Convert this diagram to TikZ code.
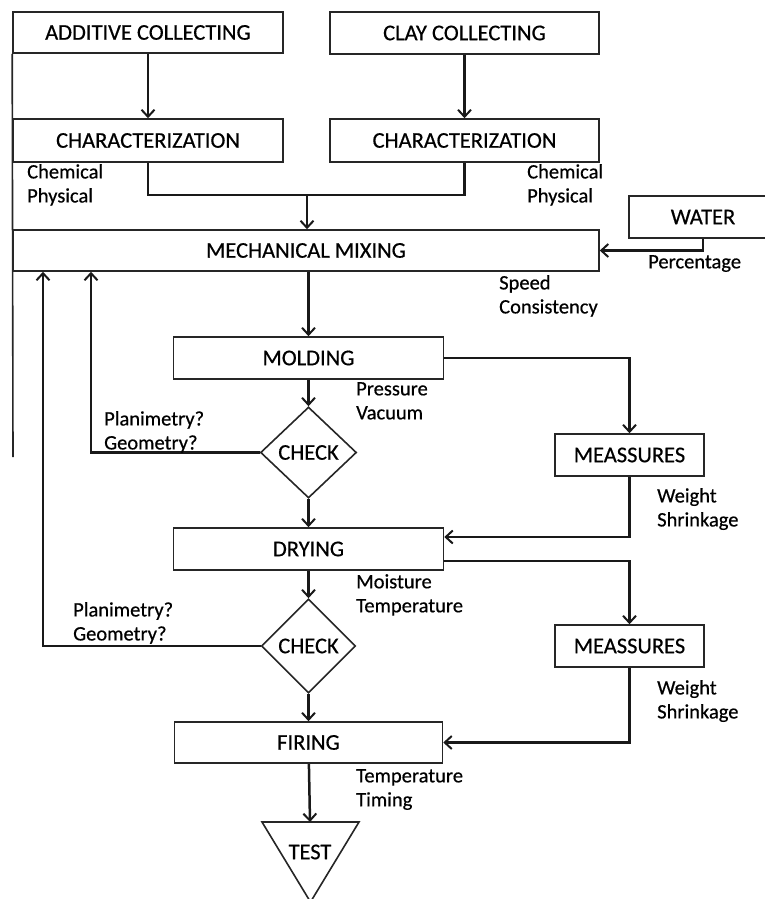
\documentclass[tikz,border=0pt]{standalone}
\usepackage{fontspec}
\setmainfont{Carlito}[FakeBold=0.5]
\usetikzlibrary{arrows.meta,shapes.geometric}
\begin{document}
\begin{tikzpicture}[x=1pt,y=-1pt,
  box/.style={draw=black!85, line width=1.6pt, inner sep=0pt, font=\fontsize{22.5}{26}\selectfont},
  chk/.style={diamond, draw=black!85, line width=1.6pt, inner sep=0pt, font=\fontsize{22.5}{26}\selectfont},
  shapeline/.style={draw=black!85, line width=1.6pt},
  note/.style={anchor=north west, inner sep=0pt, align=left, font=\fontsize{20.5}{24}\selectfont},
  conn/.style={line width=2.5pt, draw=black!90},
  arr/.style={conn, -{Straight Barb[length=7pt,width=13pt,line width=2pt]}}
]
\useasboundingbox (0,0) rectangle (764,899);

% boxes
\node[box, minimum width=270pt, minimum height=41pt] (add) at (148,32.5) {ADDITIVE COLLECTING};
\node[box, minimum width=269pt, minimum height=42pt] (clay) at (464.5,33) {CLAY COLLECTING};
\node[box, minimum width=270pt, minimum height=43pt] (char1) at (148,140.5) {CHARACTERIZATION};
\node[box, minimum width=269pt, minimum height=43pt] (char2) at (464.5,140.5) {CHARACTERIZATION};
\node[box, minimum width=586pt, minimum height=41pt] (mix) at (306,250.5) {MECHANICAL MIXING};
\node[box, minimum width=148pt, minimum height=42pt] (water) at (703,217) {WATER};
\node[box, minimum width=270pt, minimum height=42pt] (mold) at (308.5,358) {MOLDING};
\node[chk, minimum width=96pt, minimum height=91pt] (check1) at (308.5,452.5) {CHECK};
\node[box, minimum width=270pt, minimum height=42pt] (dry) at (308.5,549) {DRYING};
\node[chk, minimum width=94pt, minimum height=94pt] (check2) at (308.5,646) {CHECK};
\node[box, minimum width=268pt, minimum height=41pt] (fire) at (308.5,742.5) {FIRING};
\node[box, minimum width=149pt, minimum height=42pt] (meas1) at (629.5,455) {MEASSURES};
\node[box, minimum width=149pt, minimum height=42pt] (meas2) at (629.5,646) {MEASSURES};

% test triangle
\coordinate (testtop) at (310,822);
\draw[shapeline] (262,822) -- (359,822) -- (310.5,902) -- cycle;
\node[font=\fontsize{22.5}{26}\selectfont, inner sep=0pt] (test) at (310,852) {TEST};

% left edge line
\coordinate (leftend) at (13,457);
\draw[shapeline] (add.south west) -- (leftend);

% connectors
\draw[arr] (add) -- (char1);
\draw[arr] (clay) -- (char2);
\coordinate (j) at (307,195);
\draw[conn] (char1.south) |- (j) -| (char2.south);
\draw[arr] (j) -- (j |- mix.north);
\draw[arr] (water.south) |- (mix.east);
\draw[arr] (mold.north |- mix.south) -- (mold.north);
\draw[arr] (mold) -- (check1);
\draw[arr] (check1) -- (dry);
\draw[arr] (dry) -- (check2);
\draw[arr] (check2) -- (fire);
\draw[arr] (fire) -- (testtop);
\coordinate (fb1) at (91,0);
\coordinate (fb2) at (43,0);
\draw[arr] (check1.west) -| (fb1 |- mix.south);
\draw[arr] (check2.west) -| (fb2 |- mix.south);
\draw[arr] (mold.east) -| (meas1.north);
\draw[arr] (meas1.south) |- ([yshift=12pt]dry.east);
\draw[arr] ([yshift=-12pt]dry.east) -| (meas2.north);
\draw[arr] (meas2.south) |- (fire.east);

% notes
\node[note] (n1) at (27,164) {Chemical\\Physical};
\node[note] (n2) at (527,164) {Chemical\\Physical};
\node[note] (n3) at (648,255) {Percentage};
\node[note] (n4) at (499,275) {Speed\\Consistency};
\node[note] (n5) at (356,382) {Pressure\\Vacuum};
\node[note] (n6) at (104,411) {Planimetry?\\Geometry?};
\node[note] (n7) at (657,488) {Weight\\Shrinkage};
\node[note] (n8) at (356,574) {Moisture\\Temperature};
\node[note] (n9) at (73,602) {Planimetry?\\Geometry?};
\node[note] (n10) at (657,680) {Weight\\Shrinkage};
\node[note] (n11) at (356,769) {Temperature\\Timing};
\end{tikzpicture}
\end{document}
